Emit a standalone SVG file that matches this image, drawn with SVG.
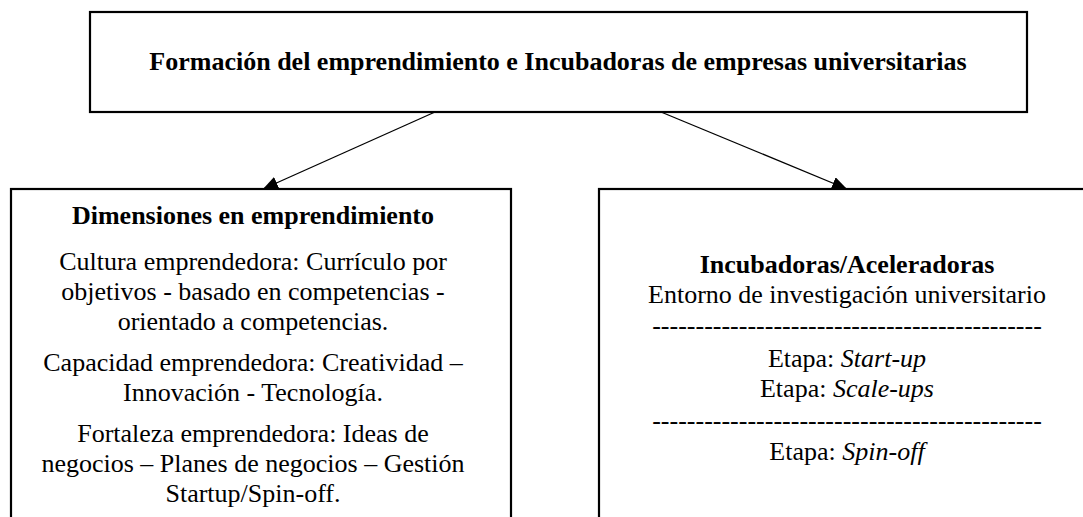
<svg xmlns="http://www.w3.org/2000/svg" width="1083" height="517" viewBox="0 0 1083 517">
<style>
.box{fill:#fff;stroke:#000;stroke-width:2.2}
.t{font-family:"Liberation Serif","Times New Roman",serif;font-size:26px;fill:#000;text-anchor:middle}
.b{font-weight:bold}
.i{font-style:italic}
.conn{stroke:#000;stroke-width:1.3;fill:none}
</style>
<defs>
<marker id="ah" markerUnits="userSpaceOnUse" markerWidth="16" markerHeight="14" refX="15" refY="6.5" orient="auto">
<path d="M0,0 L15,6.5 L0,13 z" fill="#000"/>
</marker>
</defs>
<rect width="1083" height="517" fill="#fff"/>
<g id="top">
<rect class="box" x="90" y="12" width="937" height="100" stroke-width="2.6"/>
<text class="t b" x="558" y="70">Formación del emprendimiento e Incubadoras de empresas universitarias</text>
</g>
<g id="left">
<rect class="box" x="11" y="189" width="500" height="345"/>
<text class="t b" x="253" y="224">Dimensiones en emprendimiento</text>
<text class="t" x="253" y="270">Cultura emprendedora: Currículo por</text>
<text class="t" x="253" y="300">objetivos - basado en competencias -</text>
<text class="t" x="253" y="330">orientado a competencias.</text>
<text class="t" x="253" y="371">Capacidad emprendedora: Creatividad –</text>
<text class="t" x="253" y="401">Innovación - Tecnología.</text>
<text class="t" x="253" y="442">Fortaleza emprendedora: Ideas de</text>
<text class="t" x="253" y="472">negocios – Planes de negocios – Gestión</text>
<text class="t" x="253" y="502">Startup/Spin-off.</text>
</g>
<g id="right">
<rect class="box" x="599" y="189" width="520" height="345"/>
<text class="t b" x="847" y="273">Incubadoras/Aceleradoras</text>
<text class="t" x="847" y="303">Entorno de investigación universitario</text>
<text class="t" x="847" y="334">---------------------------------------------</text>
<text class="t" x="847" y="367">Etapa: <tspan class="i">Start-up</tspan></text>
<text class="t" x="847" y="397">Etapa: <tspan class="i">Scale-ups</tspan></text>
<text class="t" x="847" y="429">---------------------------------------------</text>
<text class="t" x="847" y="460">Etapa: <tspan class="i">Spin-off</tspan></text>
</g>
<g id="connectors">
<line class="conn" x1="435" y1="112" x2="263" y2="189" marker-end="url(#ah)"/>
<line class="conn" x1="661" y1="112" x2="847" y2="189" marker-end="url(#ah)"/>
</g>
</svg>
